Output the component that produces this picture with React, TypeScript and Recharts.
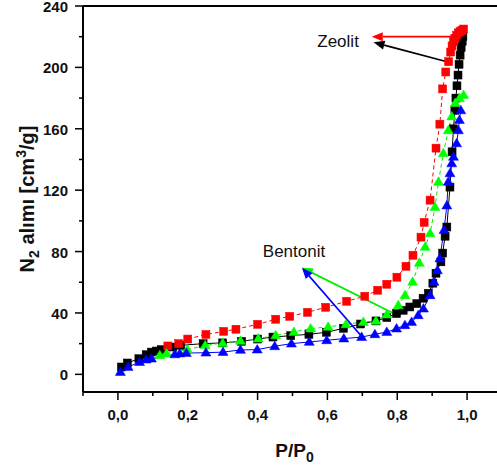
import React from 'react';
import { ComposedChart, Line, XAxis, YAxis, ReferenceLine, ReferenceDot } from 'recharts';

// Zeolite adsorption (black squares)
const zeoAdsP = [0.010, 0.027, 0.060, 0.081, 0.096, 0.110, 0.124, 0.157, 0.180, 0.244, 0.300, 0.354, 0.400, 0.444, 0.495, 0.547, 0.597, 0.646, 0.695, 0.739, 0.770, 0.798, 0.817, 0.836, 0.856, 0.874, 0.889, 0.902, 0.911, 0.925, 0.930, 0.937, 0.942, 0.951, 0.957, 0.961, 0.965, 0.968, 0.971, 0.974, 0.977, 0.980, 0.983, 0.986, 0.988];
const zeoAdsV = [4.8, 7.4, 10.2, 12.8, 14.5, 15.2, 16.1, 17.8, 18.9, 20.0, 20.5, 21.5, 23.0, 24.3, 25.2, 26.1, 27.4, 30.0, 32.8, 34.8, 37.0, 39.6, 41.7, 43.9, 46.1, 49.6, 52.8, 59.4, 65.9, 73.3, 79.0, 90.0, 96.0, 122.0, 145.0, 160.0, 172.0, 180.0, 188.0, 195.0, 202.0, 208.0, 213.0, 217.0, 220.0];

// Zeolite desorption (red squares)
const zeoDesP = [0.143, 0.174, 0.200, 0.252, 0.303, 0.338, 0.400, 0.452, 0.492, 0.543, 0.595, 0.655, 0.707, 0.744, 0.770, 0.799, 0.825, 0.845, 0.868, 0.877, 0.894, 0.911, 0.922, 0.930, 0.939, 0.947, 0.953, 0.957, 0.961, 0.965, 0.970, 0.975, 0.980, 0.985, 0.990];
const zeoDesV = [18.5, 20.0, 23.0, 26.0, 28.0, 29.4, 32.6, 35.9, 37.8, 40.4, 43.7, 47.6, 50.9, 54.8, 58.7, 63.3, 70.4, 77.6, 89.4, 99.0, 113.5, 147.4, 163.0, 186.0, 197.0, 203.7, 210.0, 214.0, 216.8, 219.0, 221.0, 222.5, 223.3, 224.0, 225.0];

// Bentonite desorption (green triangles)
const benDesP = [0.120, 0.139, 0.199, 0.250, 0.300, 0.351, 0.402, 0.452, 0.504, 0.552, 0.602, 0.653, 0.703, 0.739, 0.770, 0.803, 0.822, 0.844, 0.863, 0.880, 0.894, 0.908, 0.918, 0.932, 0.946, 0.956, 0.966, 0.978, 0.990];
const benDesV = [12.4, 13.5, 16.1, 18.9, 20.4, 21.8, 23.3, 25.4, 27.6, 29.8, 30.9, 32.6, 34.1, 34.8, 39.0, 45.0, 51.5, 60.2, 72.6, 83.0, 91.8, 109.0, 125.4, 144.0, 159.0, 168.0, 176.8, 179.8, 182.0];

// Bentonite adsorption (blue triangles)
const benAdsP = [0.007, 0.029, 0.062, 0.081, 0.096, 0.163, 0.177, 0.196, 0.252, 0.301, 0.351, 0.399, 0.449, 0.497, 0.548, 0.598, 0.647, 0.698, 0.736, 0.770, 0.798, 0.822, 0.841, 0.860, 0.875, 0.894, 0.905, 0.915, 0.922, 0.934, 0.942, 0.946, 0.951, 0.956, 0.961, 0.970, 0.975, 0.978, 0.982];
const benAdsV = [1.5, 4.8, 8.0, 9.6, 10.2, 13.0, 13.5, 13.9, 14.1, 14.5, 15.9, 16.1, 18.3, 20.0, 21.1, 22.2, 23.3, 24.3, 26.1, 27.6, 29.8, 32.0, 34.1, 38.5, 42.8, 51.5, 60.2, 67.8, 75.5, 94.0, 110.0, 125.4, 131.0, 137.4, 141.7, 150.5, 159.0, 165.7, 172.0];

const xTicks = [-0.1, 0, 0.1, 0.2, 0.3, 0.4, 0.5, 0.6, 0.7, 0.8, 0.9, 1.0, 1.1];
const yTicks = [0, 20, 40, 60, 80, 100, 120, 140, 160, 180, 200, 220, 240];

const FONT = '"Liberation Sans", Arial, sans-serif';

const rows = (p: number[], v: number[]) => p.map((x, i) => ({ x, y: v[i] }));

const squareDot = (color: string) => (props: any) => {
  const { cx, cy, index } = props;
  if (cx == null || cy == null) return <g key={index} />;
  const s = 8;
  return <rect key={index} x={cx - s / 2} y={cy - s / 2} width={s} height={s} fill={color} stroke={color} strokeWidth={0.5} />;
};

const triDot = (color: string) => (props: any) => {
  const { cx, cy, index } = props;
  if (cx == null || cy == null) return <g key={index} />;
  const w = 10, h = 8.5;
  return <polygon key={index} points={`${cx},${cy - h * 0.6} ${cx - w / 2},${cy + h * 0.4} ${cx + w / 2},${cy + h * 0.4}`} fill={color} stroke={color} strokeWidth={0.5} />;
};

const makeArrow = (color: string) => (props: any) => {
  const { x1, y1, x2, y2 } = props;
  const dx = x2 - x1, dy = y2 - y1;
  const len = Math.hypot(dx, dy) || 1;
  const ux = dx / len, uy = dy / len;
  const hl = 11, hw = 4.5;
  const bx = x2 - ux * hl, by = y2 - uy * hl;
  const px = -uy, py = ux;
  return (
    <g>
      <line x1={x1} y1={y1} x2={bx} y2={by} stroke={color} strokeWidth={1.8} />
      <polygon points={`${x2},${y2} ${bx + px * hw},${by + py * hw} ${bx - px * hw},${by - py * hw}`} fill={color} />
    </g>
  );
};

const textShape = (label: string) => (props: any) => (
  <text x={props.cx} y={props.cy} fontFamily={FONT} fontSize={17} fill="#111">{label}</text>
);

const XTick = (props: any) => {
  const { x, y, payload } = props;
  const v = payload.value as number;
  const k = Math.round(v * 10);
  const major = k >= 0 && k % 2 === 0;
  return (
    <g>
      <line x1={x} x2={x} y1={y} y2={y + (major ? 8 : 4)} stroke="#000" strokeWidth={1.5} />
      {major && (
        <text x={x} y={y + 28} textAnchor="middle" fontFamily={FONT} fontWeight="bold" fontSize={15} fill="#111">
          {v.toFixed(1).replace('.', ',')}
        </text>
      )}
    </g>
  );
};

const YTick = (props: any) => {
  const { x, y, payload } = props;
  const v = payload.value as number;
  const major = v % 40 === 0;
  return (
    <g>
      <line x1={x} x2={x - (major ? 8 : 4)} y1={y} y2={y} stroke="#000" strokeWidth={1.5} />
      {major && (
        <text x={x - 15} y={y} dy="0.4em" textAnchor="end" fontFamily={FONT} fontWeight="bold" fontSize={15} fill="#111">
          {v}
        </text>
      )}
    </g>
  );
};

const YLabel = (props: any) => {
  const vb = props.viewBox || { x: 0, y: 6, width: 83, height: 386 };
  const cx = vb.x + 34;
  const cy = vb.y + vb.height / 2;
  return (
    <text x={cx} y={cy} transform={`rotate(-90 ${cx} ${cy})`} textAnchor="middle" fontFamily={FONT} fontWeight="bold" fontSize={20} fill="#111">
      <tspan>N</tspan>
      <tspan dy={5} fontSize={14}>2</tspan>
      <tspan dy={-5}> alımı [cm</tspan>
      <tspan dy={-8} fontSize={14}>3</tspan>
      <tspan dy={8}>/g]</tspan>
    </text>
  );
};

const XLabel = (props: any) => {
  const vb = props.viewBox || { x: 83, y: 392, width: 419, height: 76 };
  const cx = vb.x + vb.width / 2 + 2;
  const cy = vb.y + 65;
  return (
    <text x={cx} y={cy} textAnchor="middle" fontFamily={FONT} fontWeight="bold" fontSize={19} fill="#111">
      <tspan>P/P</tspan>
      <tspan dy={5} fontSize={14}>0</tspan>
    </text>
  );
};

export default function App() {
  return (
    <div style={{ position: 'absolute', left: 0, top: 0, width: 497, height: 468, overflow: 'hidden', background: '#fff' }}>
      <ComposedChart width={502} height={468} margin={{ top: 6, right: 0, bottom: 0, left: 0 }}>
        <XAxis
          dataKey="x"
          type="number"
          domain={[-0.1, 1.1]}
          ticks={xTicks}
          interval={0}
          tickSize={0}
          tickMargin={0}
          tickLine={false}
          tick={<XTick />}
          height={76}
          axisLine={{ stroke: '#000', strokeWidth: 2 }}
          allowDataOverflow
          label={{ content: <XLabel /> }}
        />
        <YAxis
          dataKey="y"
          type="number"
          domain={[-11.5, 240]}
          ticks={yTicks}
          interval={0}
          tickSize={0}
          tickMargin={0}
          tickLine={false}
          tick={<YTick />}
          width={83}
          axisLine={{ stroke: '#000', strokeWidth: 2 }}
          allowDataOverflow
          label={{ content: <YLabel /> }}
        />
        <ReferenceLine y={240} stroke="#000" strokeWidth={2} ifOverflow="extendDomain" />
        <Line data={rows(zeoAdsP, zeoAdsV)} dataKey="y" stroke="#000" strokeWidth={1} dot={squareDot('#000')} isAnimationActive={false} type="linear" />
        <Line data={rows(zeoDesP, zeoDesV)} dataKey="y" stroke="#ff0000" strokeWidth={1} strokeDasharray="4 3" dot={squareDot('#ff0000')} isAnimationActive={false} type="linear" />
        <Line data={rows(benDesP, benDesV)} dataKey="y" stroke="#00ee00" strokeWidth={1} strokeDasharray="4 3" dot={triDot('#00ff00')} isAnimationActive={false} type="linear" />
        <Line data={rows(benAdsP, benAdsV)} dataKey="y" stroke="#0000ff" strokeWidth={1} dot={triDot('#0000ff')} isAnimationActive={false} type="linear" />
        <ReferenceLine segment={[{ x: 0.96, y: 220 }, { x: 0.727, y: 220 }]} shape={makeArrow('#ff0000')} ifOverflow="visible" />
        <ReferenceLine segment={[{ x: 0.937, y: 204 }, { x: 0.732, y: 216.3 }]} shape={makeArrow('#000')} ifOverflow="visible" />
        <ReferenceLine segment={[{ x: 0.789, y: 39.8 }, { x: 0.527, y: 69.5 }]} shape={makeArrow('#00ee00')} ifOverflow="visible" />
        <ReferenceLine segment={[{ x: 0.699, y: 24.5 }, { x: 0.527, y: 69.5 }]} shape={makeArrow('#0000ff')} ifOverflow="visible" />
        <ReferenceDot x={0.571} y={213.4} r={0} shape={textShape('Zeolit')} ifOverflow="visible" />
        <ReferenceDot x={0.415} y={76.6} r={0} shape={textShape('Bentonit')} ifOverflow="visible" />
      </ComposedChart>
    </div>
  );
}
